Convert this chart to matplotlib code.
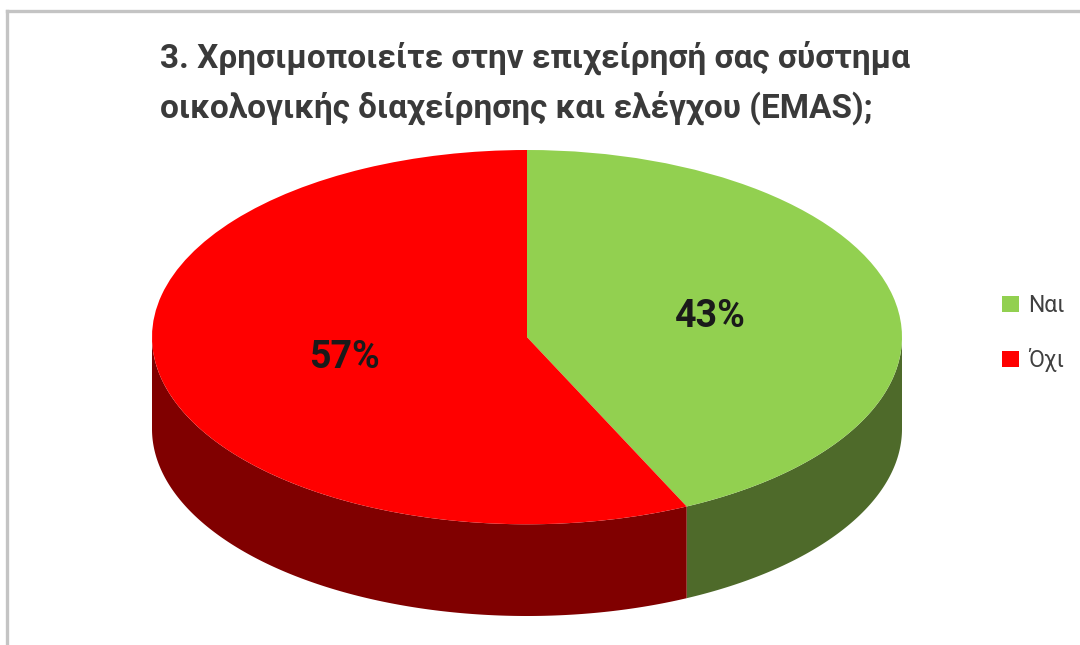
import matplotlib
matplotlib.use("Agg")
import matplotlib.pyplot as plt
from matplotlib.patches import Polygon
from matplotlib.lines import Line2D
import numpy as np

plt.rcParams['font.family'] = ['Roboto', 'DejaVu Sans']

title_lines = ["3. Χρησιμοποιείτε στην επιχείρησή σας σύστημα",
               "οικολογικής διαχείρησης και ελέγχου (EMAS);"]
labels = ["Ναι", "Όχι"]
values = [43, 57]
top_colors = ["#92D050", "#FF0000"]
side_colors = ["#4E6A2A", "#800000"]

W, H = 1080, 645
fig = plt.figure(figsize=(W / 100, H / 100), dpi=100)
fig.patch.set_facecolor("white")

# chart-area border (top and left edges)
fig.add_artist(Line2D([7 / W, 1], [1 - 11 / H, 1 - 11 / H], color="#C4C4C4", lw=2.4))
fig.add_artist(Line2D([7 / W, 7 / W], [0, 1 - 11 / H], color="#C4C4C4", lw=2.4))

# pie axes: unit circle squashed into an ellipse, with room below for the rim
depth = 0.49
left_px, right_px, top_px, bottom_px = 152, 902, 150, 616
ax = fig.add_axes([left_px / W, 1 - bottom_px / H,
                   (right_px - left_px) / W, (bottom_px - top_px) / H])

wedges, texts, autotexts = ax.pie(
    values, colors=top_colors, startangle=90, counterclock=False,
    autopct="%.0f%%", pctdistance=0.5, radius=1.0,
    wedgeprops=dict(linewidth=0, edgecolor="none"),
    textprops=dict(fontsize=27, fontweight="bold", color="#1a1a1a"))
ax.set_aspect("auto")
ax.set_xlim(-1, 1)
ax.set_ylim(-1 - depth, 1)
ax.axis("off")

# rim of each slice: only the front half (angles 180..360) is visible
for w, sc in zip(wedges, side_colors):
    t1, t2 = w.theta1 % 360, w.theta2 % 360
    if t2 <= t1:
        t2 += 360
    for lo, hi in [(180, 360), (540, 720)]:
        a0, a1 = max(t1, lo), min(t2, hi)
        if a1 <= a0:
            continue
        th = np.radians(np.linspace(a0, a1, 200))
        xs, ys = np.cos(th), np.sin(th)
        pts = np.concatenate([np.column_stack([xs, ys]),
                              np.column_stack([xs[::-1], ys[::-1] - depth])])
        ax.add_patch(Polygon(pts, closed=True, facecolor=sc, edgecolor="none",
                             zorder=0.5))
for w in wedges:
    w.set_zorder(1)
for t in autotexts:
    t.set_zorder(2)

# title
for line, base_px in zip(title_lines, [68, 118]):
    fig.text(160 / W, 1 - base_px / H, line, fontsize=24, fontweight="bold",
             color="#3A3A3A", ha="left", va="baseline")

# legend
fig.legend(wedges, labels, loc="upper left",
           bbox_to_anchor=(1002 / W, 1 - 294 / H), frameon=False,
           fontsize=16.5, labelcolor="#404040", handlelength=0.75,
           handleheight=0.75, handletextpad=0.4, labelspacing=1.35,
           borderpad=0, borderaxespad=0)

fig.savefig("out.png", dpi=100, facecolor="white")
